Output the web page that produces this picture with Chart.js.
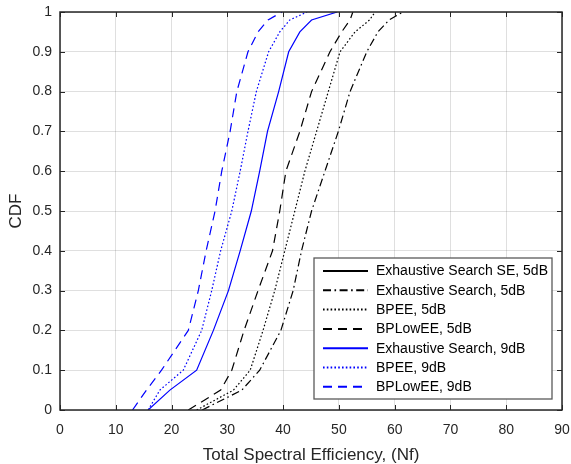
<!DOCTYPE html>
<html>
<head>
<meta charset="utf-8">
<script src="https://cdn.jsdelivr.net/npm/chart.js@4.4.1/dist/chart.umd.min.js"></script>
<style>
    html, body { margin: 0; padding: 0; background: #fff; }
    #wrap { width: 571px; height: 464px; }
</style>
</head>
<body>
<div id="wrap"><canvas id="cdfChart" width="571" height="464"></canvas></div>
<script>
        // CDF levels shared by every curve
        const cdfLevels = [0, 0.05, 0.1, 0.2, 0.3, 0.4, 0.5, 0.6, 0.7, 0.8, 0.9, 0.95, 0.98, 1];

        // Total spectral efficiency read at each CDF level
        const exhaustiveSE5dB = [];
        const exhaustive5dB = [25.5, 32.6, 35.8, 39.6, 41.8, 43.3, 45.1, 47.5, 49.9, 52.0, 55.0, 57.0, 59.0, 61.5];
        const bpee5dB = [24.5, 31.1, 34.1, 36.4, 38.5, 40.3, 42.1, 43.9, 46.0, 48.1, 50.2, 52.9, 55.5, 56.5];
        const bplowee5dB = [23.0, 28.8, 30.8, 33.0, 35.5, 38.1, 39.4, 40.5, 43.0, 45.1, 48.4, 50.5, 52.0, 52.5];
        const exhaustive9dB = [15.8, 19.7, 24.5, 27.5, 30.2, 32.3, 34.3, 35.8, 37.2, 39.2, 41.0, 43.0, 45.1, 49.7];
        const bpee9dB = [15.8, 17.9, 22.1, 25.4, 27.2, 28.8, 30.8, 32.3, 33.7, 35.2, 37.4, 39.4, 41.2, 44.3];
        const bplowee9dB = [13.0, 15.5, 18.2, 23.0, 24.8, 26.2, 27.8, 29.0, 30.5, 31.7, 33.7, 35.5, 37.3, 39.8];

        const xTicks = [0, 10, 20, 30, 40, 50, 60, 70, 80, 90];
        const yTicks = [0, 0.1, 0.2, 0.3, 0.4, 0.5, 0.6, 0.7, 0.8, 0.9, 1];

        const FONT = '"Liberation Sans", Arial, Helvetica, sans-serif';
        const BLUE = '#0000ff';
        const BLACK = '#000000';

        const DASH = [9, 6];
        const DOT = [1.6, 2.2];
        const DASHDOT = [8, 3.5, 1.6, 3.5];

        function toPoints(xs) {
            return xs.map((x, i) => ({ x: x, y: cdfLevels[i] }));
        }

        function makeSet(label, xs, color, dash) {
            return {
                label: label,
                data: toPoints(xs),
                borderColor: color,
                backgroundColor: color,
                borderWidth: 1.2,
                borderDash: dash,
                pointRadius: 0,
                tension: 0,
                fill: false
            };
        }

        // Box round the plot with inward tick marks on all four sides
        const axisBox = {
            id: 'axisBox',
            afterDatasetsDraw(chart) {
                const { ctx, chartArea: a, scales } = chart;
                const x = scales.x, y = scales.y;
                ctx.save();
                ctx.strokeStyle = '#262626';
                ctx.lineWidth = 1;
                ctx.beginPath();
                xTicks.forEach(v => {
                    const px = Math.round(x.getPixelForValue(v)) + 0.5;
                    ctx.moveTo(px, a.bottom); ctx.lineTo(px, a.bottom - 5);
                    ctx.moveTo(px, a.top); ctx.lineTo(px, a.top + 5);
                });
                yTicks.forEach(v => {
                    const py = Math.round(y.getPixelForValue(v)) + 0.5;
                    ctx.moveTo(a.left, py); ctx.lineTo(a.left + 5, py);
                    ctx.moveTo(a.right, py); ctx.lineTo(a.right - 5, py);
                });
                ctx.stroke();
                ctx.lineWidth = 1.5;
                ctx.strokeRect(a.left, a.top, a.right - a.left, a.bottom - a.top);
                ctx.restore();
            }
        };

        // MATLAB style legend in the lower right corner
        const boxLegend = {
            id: 'boxLegend',
            afterDraw(chart) {
                const { ctx, chartArea: a } = chart;
                const sets = chart.data.datasets;
                const right = a.right - 10;
                const bottom = a.bottom - 11;
                const width = 238;
                const rowH = 19.3;
                const height = 141;
                const left = right - width;
                const top = bottom - height;
                ctx.save();
                ctx.fillStyle = '#fff';
                ctx.fillRect(left, top, width, height);
                ctx.strokeStyle = '#5a5a5a';
                ctx.lineWidth = 1.3;
                ctx.strokeRect(left, top, width, height);
                ctx.font = '14px ' + FONT;
                ctx.textBaseline = 'middle';
                ctx.textAlign = 'left';
                sets.forEach((ds, i) => {
                    const ry = top + 13 + i * rowH;
                    ctx.beginPath();
                    ctx.setLineDash(ds.borderDash || []);
                    ctx.strokeStyle = ds.borderColor;
                    ctx.lineWidth = 2;
                    ctx.moveTo(left + 9, ry);
                    ctx.lineTo(left + 54, ry);
                    ctx.stroke();
                    ctx.setLineDash([]);
                    ctx.fillStyle = '#000';
                    ctx.fillText(ds.label, left + 62, ry + 0.5);
                });
                ctx.restore();
            }
        };

        const ctx = document.getElementById('cdfChart').getContext('2d');
        new Chart(ctx, {
            type: 'line',
            data: {
                datasets: [
                    makeSet('Exhaustive Search SE, 5dB', exhaustiveSE5dB, BLACK, []),
                    makeSet('Exhaustive Search, 5dB', exhaustive5dB, BLACK, DASHDOT),
                    makeSet('BPEE, 5dB', bpee5dB, BLACK, DOT),
                    makeSet('BPLowEE, 5dB', bplowee5dB, BLACK, DASH),
                    makeSet('Exhaustive Search, 9dB', exhaustive9dB, BLUE, []),
                    makeSet('BPEE, 9dB', bpee9dB, BLUE, DOT),
                    makeSet('BPLowEE, 9dB', bplowee9dB, BLUE, DASH)
                ]
            },
            options: {
                responsive: false,
                animation: false,
                devicePixelRatio: 1,
                layout: { padding: { left: 0, right: 9, top: 12, bottom: 0 } },
                plugins: {
                    legend: { display: false },
                    tooltip: { enabled: false }
                },
                scales: {
                    x: {
                        type: 'linear',
                        min: 0,
                        max: 90,
                        afterBuildTicks: s => { s.ticks = xTicks.map(v => ({ value: v })); },
                        afterFit: s => { s.height = 54; s.paddingLeft = 0; s.paddingRight = 0; },
                        grid: { color: 'rgba(38,38,38,0.15)', drawTicks: false },
                        border: { display: false },
                        ticks: {
                            color: '#262626',
                            font: { family: FONT, size: 14 },
                            padding: 12,
                            maxRotation: 0
                        },
                        title: {
                            display: true,
                            text: 'Total Spectral Efficiency, (Nf)',
                            color: '#262626',
                            font: { family: FONT, size: 17, lineHeight: 1 },
                            padding: { top: 0, bottom: 0 }
                        }
                    },
                    y: {
                        type: 'linear',
                        min: 0,
                        max: 1,
                        afterBuildTicks: s => { s.ticks = yTicks.map(v => ({ value: v })); },
                        afterFit: s => { s.width = 60; s.paddingTop = 0; s.paddingBottom = 0; },
                        grid: { color: 'rgba(38,38,38,0.15)', drawTicks: false },
                        border: { display: false },
                        ticks: {
                            color: '#262626',
                            font: { family: FONT, size: 14 },
                            padding: 8,
                            callback: v => String(+v.toFixed(1))
                        },
                        title: {
                            display: true,
                            text: 'CDF',
                            color: '#262626',
                            font: { family: FONT, size: 17, lineHeight: 1.2 },
                            padding: { top: 6, bottom: 0 }
                        }
                    }
                }
            },
            plugins: [axisBox, boxLegend]
        });
</script>
</body>
</html>
